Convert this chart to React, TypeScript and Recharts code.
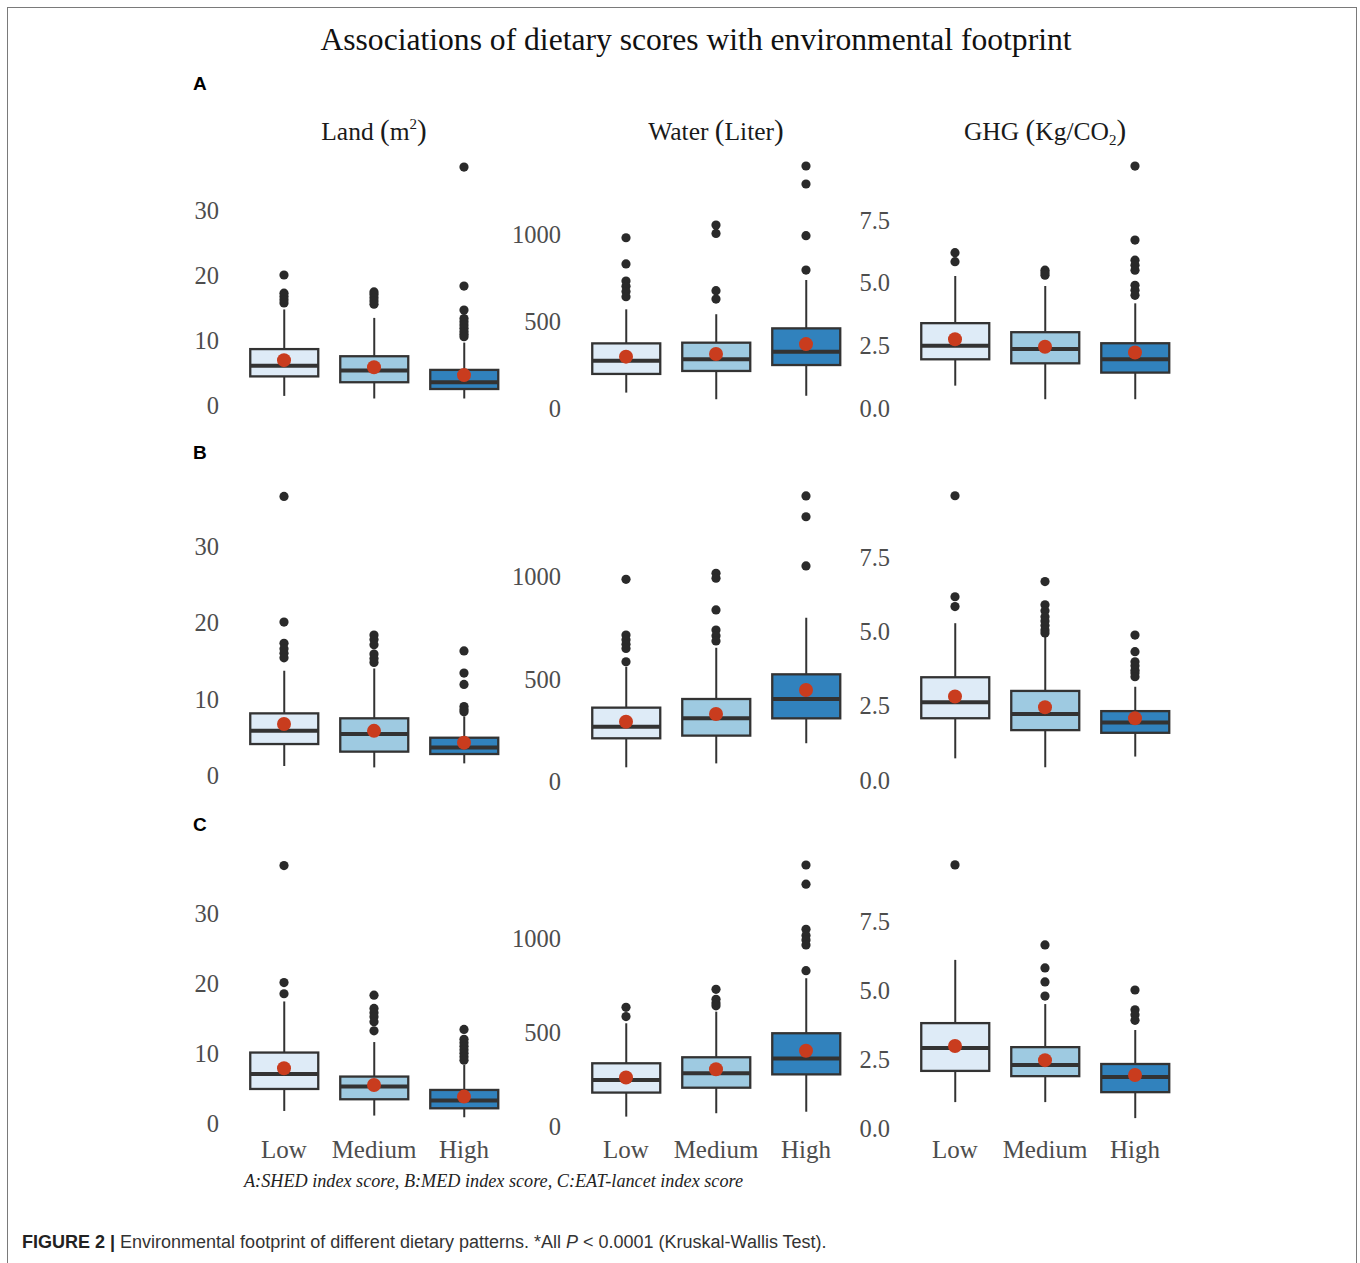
import { ComposedChart, Bar, Scatter, XAxis, YAxis } from "recharts";

const groups = ["Low", "Medium", "High"];
const boxFills = ["#deebf7", "#9ecae1", "#3182bd"];

// box stats per group: [lower whisker, q1, median, q3, upper whisker]
const landA = [[1.4, 4.4, 6.05, 8.6, 14.7], [1.0, 3.5, 5.3, 7.5, 13.4], [1.0, 2.46, 3.5, 5.4, 9.6]];
const landAMean = [6.9, 5.8, 4.6];
const landAOut = [[20.0, 17.2, 16.7, 16.2, 15.7], [17.4, 17.0, 16.5, 16.0, 15.5], [36.6, 18.3, 14.6, 13.3, 12.8, 12.3, 11.8, 11.3, 10.9, 10.5]];

const waterA = [[91, 198, 274, 373, 568], [53, 215, 282, 377, 540], [73, 249, 325, 459, 736]];
const waterAMean = [297, 312, 369];
const waterAOut = [[978, 828, 730, 700, 670, 640], [1051, 1003, 675, 627], [1389, 1286, 990, 793]];

const ghgA = [[0.9, 1.95, 2.49, 3.39, 5.27], [0.36, 1.79, 2.36, 3.03, 4.87], [0.36, 1.42, 1.95, 2.59, 4.18]];
const ghgAMean = [2.75, 2.45, 2.22];
const ghgAOut = [[6.2, 5.84], [5.5, 5.4, 5.3], [9.65, 6.7, 5.9, 5.7, 5.5, 4.9, 4.7, 4.5]];

const landB = [[1.18, 4.07, 5.8, 8.1, 13.7], [1.0, 3.07, 5.39, 7.45, 14.0], [1.53, 2.76, 3.6, 4.9, 7.7]];
const landBMean = [6.7, 5.8, 4.25];
const landBOut = [[36.6, 20.1, 17.3, 16.6, 16.0, 15.4], [18.4, 17.8, 17.1, 15.9, 15.3, 14.8], [16.3, 13.4, 11.9, 9.0, 8.6, 8.3]];

const waterB = [[70, 211, 267, 360, 559], [89, 224, 308, 402, 651], [187, 308, 402, 522, 797]];
const waterBMean = [292, 329, 446];
const waterBOut = [[984, 713, 690, 668, 648, 583], [1013, 989, 835, 737, 710, 684], [1389, 1288, 1049]];

const ghgB = [[0.73, 2.08, 2.62, 3.46, 5.28], [0.43, 1.68, 2.22, 3.0, 4.83], [0.79, 1.59, 1.94, 2.32, 3.14]];
const ghgBMean = [2.81, 2.45, 2.08];
const ghgBOut = [[9.57, 6.17, 5.84], [6.68, 5.9, 5.7, 5.5, 5.35, 5.2, 5.05, 4.95], [4.88, 4.32, 3.98, 3.85, 3.7, 3.6, 3.48]];

const landC = [[1.76, 4.9, 7.04, 10.1, 17.4], [1.1, 3.43, 5.24, 6.67, 11.6], [0.86, 2.14, 3.24, 4.76, 8.33]];
const landCMean = [7.85, 5.47, 3.81];
const landCOut = [[36.8, 20.1, 18.5], [18.3, 16.4, 15.8, 15.2, 14.5, 13.2], [13.4, 12.0, 11.5, 11.0, 10.5, 10.0, 9.5, 9.0]];

const waterC = [[50, 178, 245, 334, 547], [68, 204, 281, 366, 609], [76, 275, 359, 494, 787]];
const waterCMean = [258, 302, 401];
const waterCOut = [[632, 583], [728, 675, 655, 640], [1390, 1288, 1048, 1015, 990, 964, 827]];

const ghgC = [[0.94, 2.07, 2.9, 3.8, 6.09], [0.94, 1.88, 2.28, 2.93, 4.49], [0.36, 1.3, 1.85, 2.32, 3.55]];
const ghgCMean = [2.97, 2.46, 1.92];
const ghgCOut = [[9.53], [6.63, 5.8, 5.29, 4.78], [5.0, 4.28, 4.1, 3.9]];

const landTicks = [0, 10, 20, 30];
const waterTicks = [0, 500, 1000];
const ghgTicks = [0, 2.5, 5, 7.5];

const tickStyle = { fill: "#4d4d4d", fontSize: 24.5, fontFamily: "Liberation Serif" };
const AXIS_W = 70;
const PLOT_W = 270;

const BoxShape = (props: any) => {
  const { x, y, width, height, payload } = props;
  const { lo, q1, med, q3, hi } = payload;
  const top = Math.min(y, y + height);
  const bottom = Math.max(y, y + height);
  const toY = (v: number) => top + ((bottom - top) * (hi - v)) / (hi - lo);
  const cx = x + width / 2;
  const fill = boxFills[groups.indexOf(payload.group)];
  return (
    <g>
      <line x1={cx} x2={cx} y1={toY(hi)} y2={toY(q3)} stroke="#333" strokeWidth={2} />
      <line x1={cx} x2={cx} y1={toY(q1)} y2={toY(lo)} stroke="#333" strokeWidth={2} />
      <rect x={x} y={toY(q3)} width={width} height={toY(q1) - toY(q3)} fill={fill} stroke="#333" strokeWidth={2.3} />
      <line x1={x} x2={x + width} y1={toY(med)} y2={toY(med)} stroke="#333" strokeWidth={4} />
    </g>
  );
};

const OutlierDot = (props: any) => <circle cx={props.cx} cy={props.cy} r={4.6} fill="#2a2a2a" />;
const MeanDot = (props: any) => <circle cx={props.cx} cy={props.cy} r={7} fill="#c93c1e" />;

type PanelProps = {
  stats: number[][];
  means: number[];
  outliers: number[][];
  left: number;
  top: number;
  plotH: number;
  domain: [number, number];
  ticks: number[];
  decimals: number;
  showX: boolean;
};

const Panel = ({ stats, means, outliers, left, top, plotH, domain, ticks, decimals, showX }: PanelProps) => {
  const rows = groups.map((g, i) => ({
    group: g,
    lo: stats[i][0],
    q1: stats[i][1],
    med: stats[i][2],
    q3: stats[i][3],
    hi: stats[i][4],
  }));
  const meanPts = groups.map((g, i) => ({ group: g, value: means[i] }));
  const outPts = groups.flatMap((g, i) => outliers[i].map((v) => ({ group: g, value: v })));
  const xH = showX ? 40 : 0;
  const padB = showX ? 0 : 20;
  return (
    <div style={{ position: "absolute", left: left - AXIS_W, top }}>
      <ComposedChart
        width={AXIS_W + PLOT_W}
        height={plotH + xH + padB}
        data={rows}
        margin={{ top: 0, right: 0, bottom: padB, left: 0 }}
        barCategoryGap="12.5%"
      >
        <XAxis
          dataKey="group"
          type="category"
          allowDuplicatedCategory={false}
          hide={!showX}
          height={xH}
          axisLine={false}
          tickLine={false}
          tickSize={0}
          tickMargin={10}
          interval={0}
          tick={{ ...tickStyle, fontSize: 25 }}
        />
        <YAxis
          type="number"
          domain={domain}
          allowDataOverflow
          ticks={ticks}
          interval={0}
          width={AXIS_W}
          axisLine={false}
          tickLine={false}
          tickSize={0}
          tickMargin={20}
          tick={tickStyle}
          tickFormatter={(v: number) => v.toFixed(decimals)}
        />
        <Bar dataKey={(d: any) => [d.lo, d.hi]} shape={BoxShape} isAnimationActive={false} />
        <Scatter data={outPts} dataKey="value" shape={OutlierDot} isAnimationActive={false} />
        <Scatter data={meanPts} dataKey="value" shape={MeanDot} isAnimationActive={false} />
      </ComposedChart>
    </div>
  );
};

const cols = [
  { left: 239, ticks: landTicks, decimals: 0 },
  { left: 581, ticks: waterTicks, decimals: 0 },
  { left: 910, ticks: ghgTicks, decimals: 1 },
];

const panels = [
  { col: 0, top: 155, plotH: 255, domain: [-0.77, 38.46], stats: landA, means: landAMean, outliers: landAOut, showX: false },
  { col: 1, top: 155, plotH: 255, domain: [-8.6, 1452], stats: waterA, means: waterAMean, outliers: waterAOut, showX: false },
  { col: 2, top: 155, plotH: 255, domain: [-0.07, 10.09], stats: ghgA, means: ghgAMean, outliers: ghgAOut, showX: false },
  { col: 0, top: 483, plotH: 300, domain: [-1.05, 38.37], stats: landB, means: landBMean, outliers: landBOut, showX: false },
  { col: 1, top: 483, plotH: 300, domain: [-6.3, 1452], stats: waterB, means: waterBMean, outliers: waterBOut, showX: false },
  { col: 2, top: 483, plotH: 300, domain: [-0.1, 10.0], stats: ghgB, means: ghgBMean, outliers: ghgBOut, showX: false },
  { col: 0, top: 853, plotH: 277, domain: [-0.96, 38.6], stats: landC, means: landCMean, outliers: landCOut, showX: true },
  { col: 1, top: 853, plotH: 277, domain: [-21.3, 1454], stats: waterC, means: waterCMean, outliers: waterCOut, showX: true },
  { col: 2, top: 853, plotH: 277, domain: [-0.07, 9.96], stats: ghgC, means: ghgCMean, outliers: ghgCOut, showX: true },
];

const serif = "Liberation Serif";
const sans = "Liberation Sans";

export default function App() {
  return (
    <div>
      <style>{"body{overflow:hidden}"}</style>
      <div
        style={{
          position: "absolute",
          left: 7,
          top: 7,
          width: 1350,
          height: 1256,
          boxSizing: "border-box",
          borderTop: "1.5px solid #7a7a7a",
          borderLeft: "1.5px solid #7a7a7a",
          borderRight: "1.5px solid #7a7a7a",
        }}
      />
      <svg width={1360} height={1263} style={{ position: "absolute", left: 0, top: 0 }}>
        <text x={696} y={50} textAnchor="middle" fontFamily={serif} fontSize={31.6} fill="#111">
          Associations of dietary scores with environmental footprint
        </text>
        <text x={193} y={90} fontFamily={sans} fontWeight="bold" fontSize={19} fill="#000">A</text>
        <text x={193} y={459} fontFamily={sans} fontWeight="bold" fontSize={19} fill="#000">B</text>
        <text x={193} y={831} fontFamily={sans} fontWeight="bold" fontSize={19} fill="#000">C</text>

        <text x={374} y={140} textAnchor="middle" fontFamily={serif} fontSize={25.5} fill="#1a1a1a">
          Land <tspan fontSize={29}>(</tspan>m<tspan fontSize={15} dy={-11}>2</tspan>
          <tspan fontSize={29} dy={11}>)</tspan>
        </text>
        <text x={716} y={140} textAnchor="middle" fontFamily={serif} fontSize={25.5} fill="#1a1a1a">
          Water <tspan fontSize={29}>(</tspan>Liter<tspan fontSize={29}>)</tspan>
        </text>
        <text x={1045} y={140} textAnchor="middle" fontFamily={serif} fontSize={25.5} fill="#1a1a1a">
          GHG <tspan fontSize={29}>(</tspan>Kg/CO<tspan fontSize={15} dy={5}>2</tspan>
          <tspan fontSize={29} dy={-5}>)</tspan>
        </text>

        <text x={244} y={1187} fontFamily={serif} fontStyle="italic" fontSize={18.2} fill="#222">
          A:SHED index score, B:MED index score, C:EAT-lancet index score
        </text>
        <text x={22} y={1248} fontFamily={sans} fontSize={18} fill="#333">
          <tspan fontWeight="bold" fill="#222">FIGURE 2 |</tspan> Environmental footprint of different dietary patterns. *All{" "}
          <tspan fontStyle="italic">P</tspan> {"<"} 0.0001 (Kruskal-Wallis Test).
        </text>
      </svg>
      {panels.map((p, i) => (
        <Panel
          key={i}
          stats={p.stats}
          means={p.means}
          outliers={p.outliers}
          left={cols[p.col].left}
          top={p.top}
          plotH={p.plotH}
          domain={p.domain as [number, number]}
          ticks={cols[p.col].ticks}
          decimals={cols[p.col].decimals}
          showX={p.showX}
        />
      ))}
    </div>
  );
}
